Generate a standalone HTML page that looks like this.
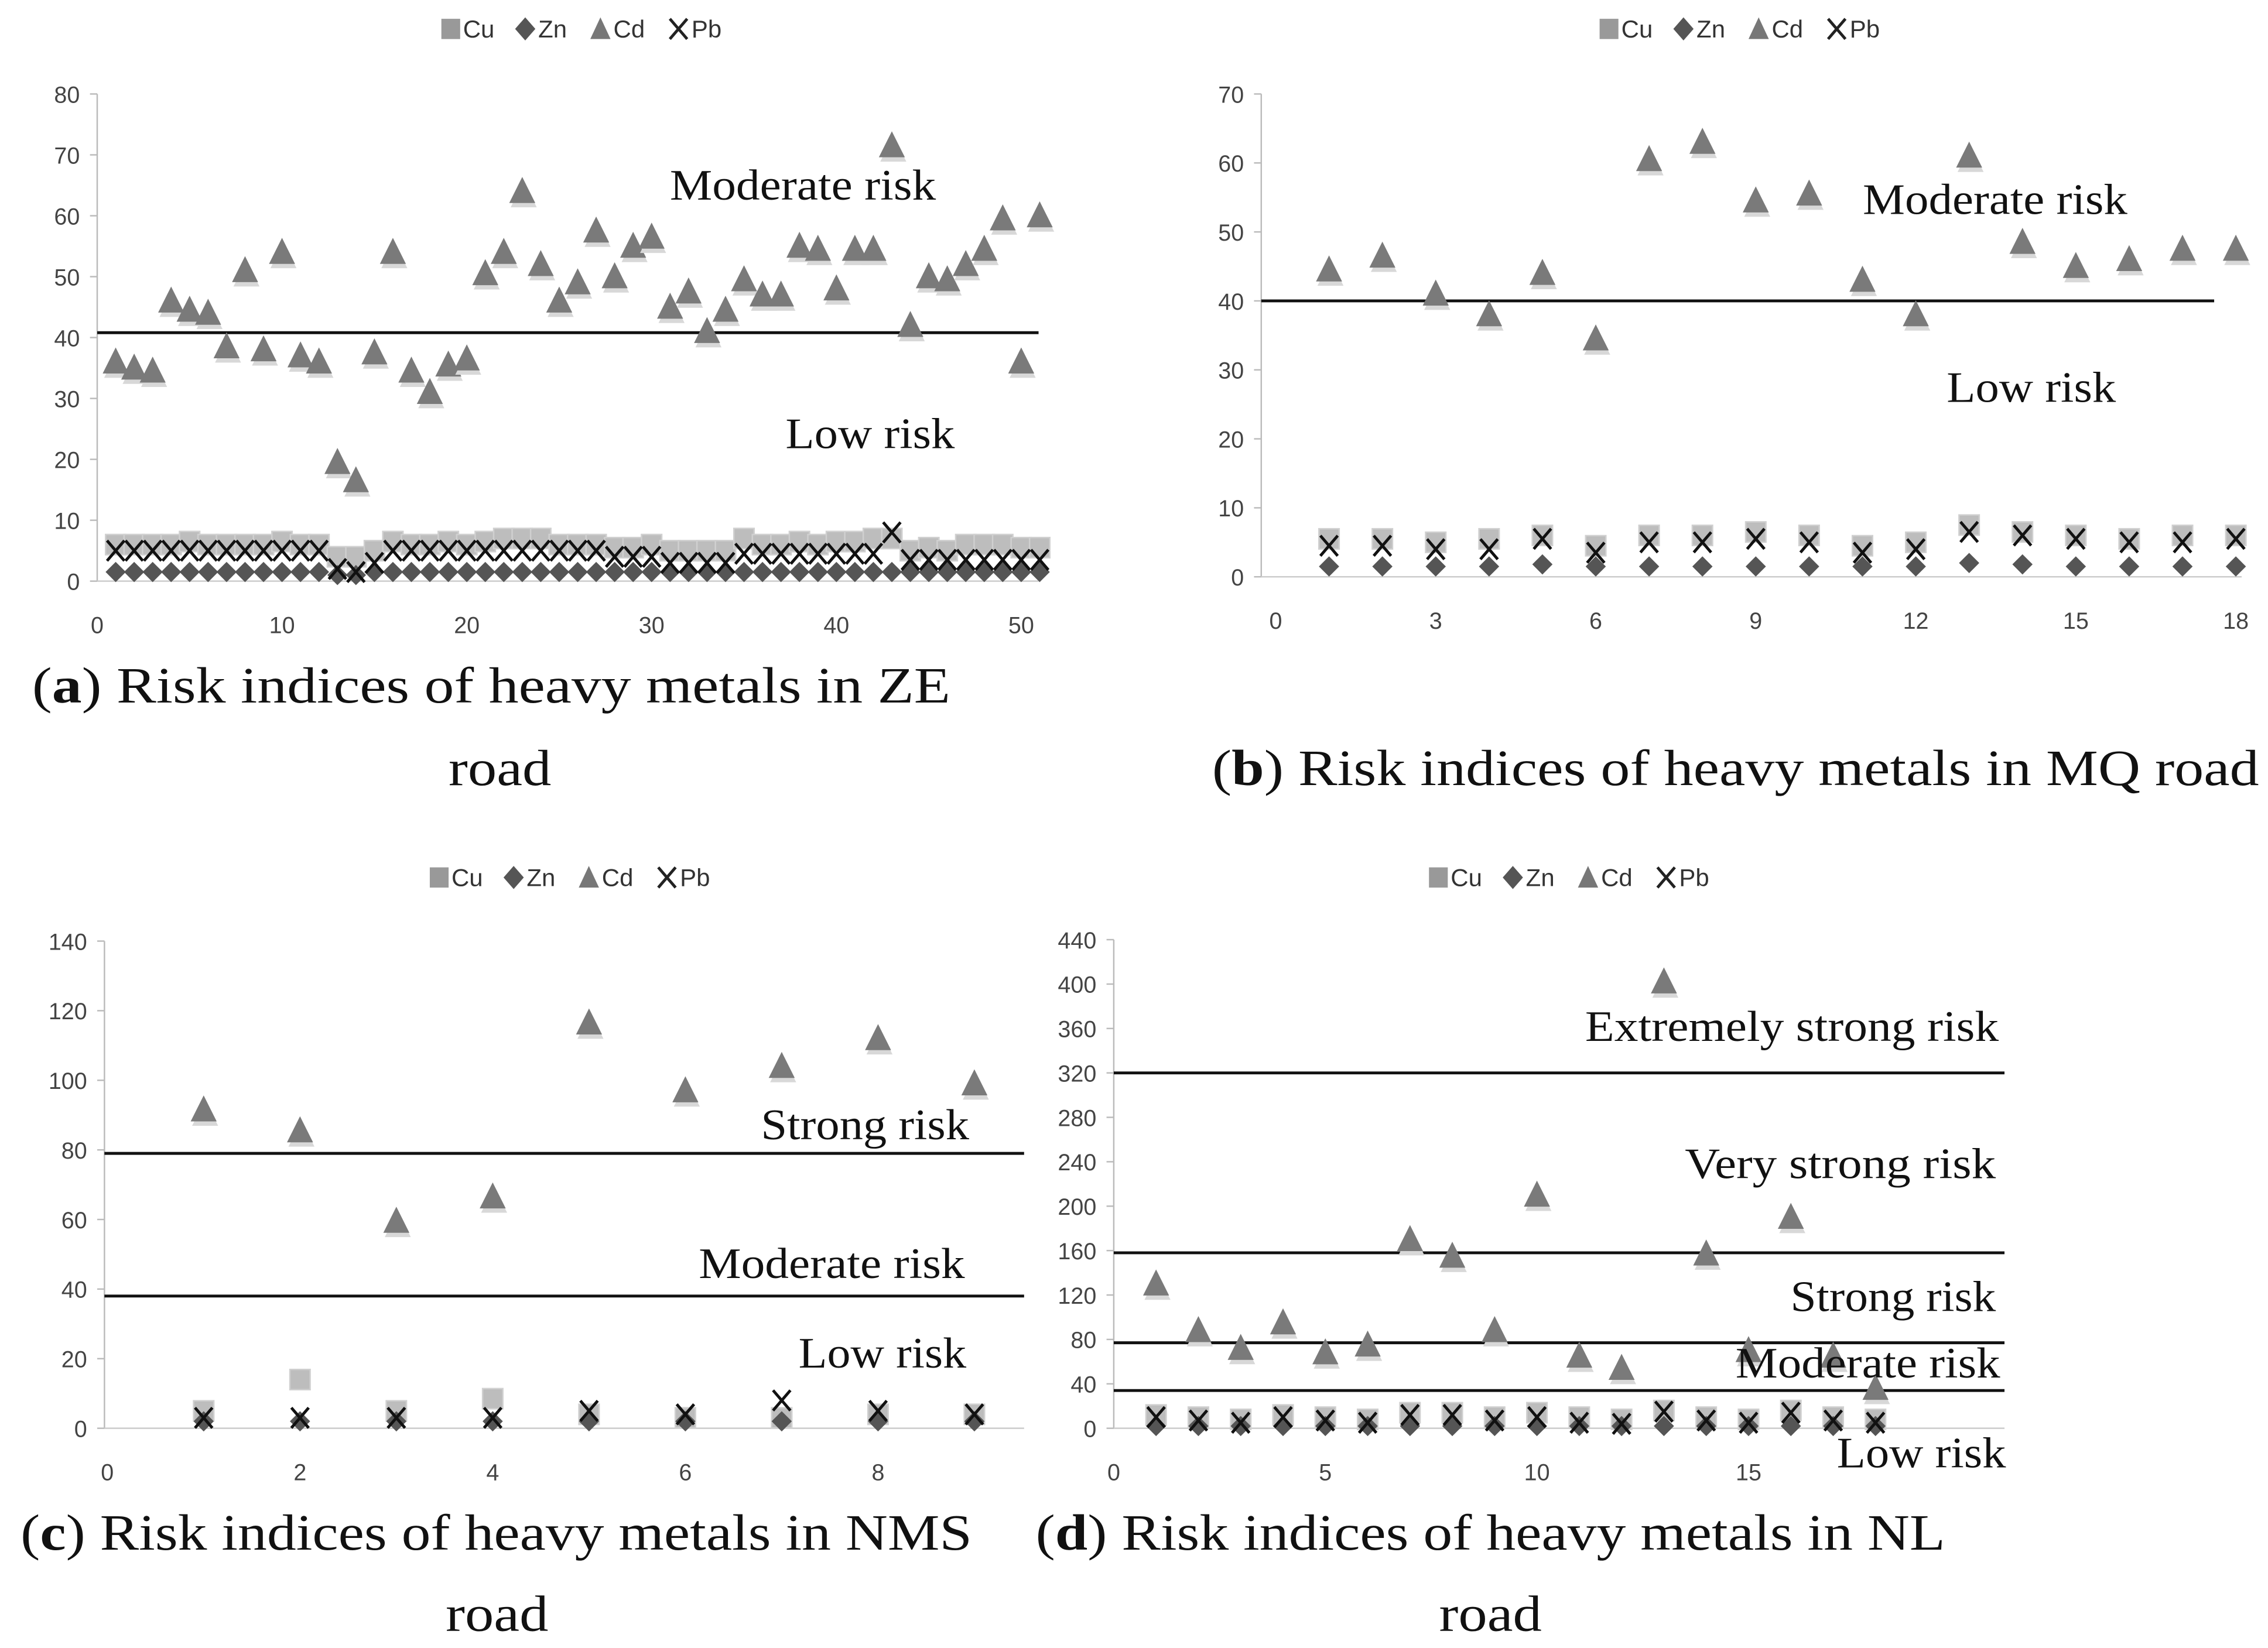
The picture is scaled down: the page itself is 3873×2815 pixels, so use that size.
<!DOCTYPE html>
<html><head><meta charset="utf-8"><style>
html,body{margin:0;padding:0;background:#fff;}
svg{display:block;}
.tk{font-family:"Liberation Sans Narrow","Liberation Sans",sans-serif;font-size:16px;fill:#444;}
.lg{font-family:"Liberation Sans Narrow","Liberation Sans",sans-serif;font-size:17px;fill:#333;}
.rz{font-family:"Liberation Serif",serif;font-size:30px;fill:#111;}
.cap{font-family:"Liberation Serif",serif;font-size:35px;fill:#111;}
</style></head><body>
<svg id="fig" width="3873" height="2815" viewBox="0 0 1568 1140" xmlns="http://www.w3.org/2000/svg"></svg>
<script>
// Panel (a) ZE road
const aCd=[36,35,34.5,46,44.5,44,38.5,51,38,54,37,36,19.5,16.5,37.5,54,34.5,31,35.5,36.5,50.5,54,64,52,46,49,57.5,50,55,56.5,45,47.5,41,44.5,49.5,47,47,55,54.5,48,54.5,54.5,71.5,42,50,49.5,52,54.5,59.5,36,60];
const aCu=[6,6,6,6,6.5,6,6,6,6,6.5,6,6,4,4,5,6.5,6,6,6.5,6,6.5,7,7,7,6,6,6,5.5,5.5,6,5,5,5,5,7,6,6,6.5,6,6.5,6.5,7,7,5,5.5,5,6,6,6,5.5,5.5];
const aZn=[1.5,1.5,1.5,1.5,1.5,1.5,1.5,1.5,1.5,1.5,1.5,1.5,1,1,1.5,1.5,1.5,1.5,1.5,1.5,1.5,1.5,1.5,1.5,1.5,1.5,1.5,1.5,1.5,1.5,1.5,1.5,1.5,1.5,1.5,1.5,1.5,1.5,1.5,1.5,1.5,1.5,1.5,1.5,1.5,1.5,1.5,1.5,1.5,1.5,1.5];
const aPb=[5,5,5,5,5,5,5,5,5,5,5,5,2,1.5,3,5,5,5,5,5,5,5,5,5,5,5,5,4,4,4,3,3,3,3,4.5,4.5,4.5,4.5,4.5,4.5,4.5,4.5,8,3.5,3.5,3.5,3.5,3.5,3.5,3.5,3.5];
const aTicksY=[0,10,20,30,40,50,60,70,80];
const aTicksX=[0,10,20,30,40,50];
const aLines=[40.8];
// Panel (b) MQ road
const bCd=[44.5,46.5,41,38,44,34.5,60.5,63,54.5,55.5,43,38,61,48.5,45,46,47.5,47.5];
const bCu=[5.5,5.5,5,5.5,6,4.5,6,6,6.5,6,4.5,5,7.5,6.5,6,5.5,6,6];
const bZn=[1.5,1.5,1.5,1.5,1.8,1.5,1.5,1.5,1.5,1.5,1.5,1.5,2,1.8,1.5,1.5,1.5,1.5];
const bPb=[4.5,4.5,4,4,5.5,3.5,5,5,5.5,5,3.5,4,6.5,6,5.5,5,5,5.5];
const bTicksY=[0,10,20,30,40,50,60,70];
const bTicksX=[0,3,6,9,12,15,18];
const bLines=[40];
// Panel (c) NMS road
const cCd=[91.5,85.5,59.5,66.5,116.5,97,104,112,99];
const cCu=[5,14,5,8.5,4,3,3,4,4];
const cZn=[2,2,2,2,2,2,2,2,2];
const cPb=[3,3,3,3,5,4,8,5,4];
const cTicksY=[0,20,40,60,80,100,120,140];
const cTicksX=[0,2,4,6,8];
const cLines=[79,38];
// Panel (d) NL road
const dCd=[130,88,72,95,68,75,170,155,88,210,65,54,402,157,70,190,65,36];
const dCu=[12,10,8,12,10,8,14,14,10,14,10,8,16,10,8,16,10,8];
const dZn=[2,2,2,2,2,2,2,2,2,2,2,2,2,2,2,2,2,2];
const dPb=[10,7,5,10,7,5,12,12,7,10,5,4,15,7,5,14,7,5];
const dTicksY=[0,40,80,120,160,200,240,280,320,360,400,440];
const dTicksX=[0,5,10,15];
const dLines=[320,158,77,34];

const NS="http://www.w3.org/2000/svg";
const svg=document.getElementById('fig');
function mk(tag,attrs,parent){const e=document.createElementNS(NS,tag);for(const k in attrs)e.setAttribute(k,attrs[k]);(parent||svg).appendChild(e);return e;}

function marker(g,kind,x,y){
  let e;
  if(kind==='Cd'){
    mk('polygon',{points:`${x-9},${y+8} ${x+9},${y+8} ${x},${y-10}`,fill:'#d8d8d8',transform:'translate(1,3)'},g);
    e=mk('polygon',{points:`${x-9},${y+8} ${x+9},${y+8} ${x},${y-10}`,fill:'#7a7a7a'},g);
  }else if(kind==='Cu'){
    e=mk('rect',{x:x-7,y:y-7,width:14,height:14,fill:'#bdbdbd',stroke:'#d0d0d0','stroke-width':1},g);
  }else if(kind==='Zn'){
    e=mk('polygon',{points:`${x},${y-7} ${x+7},${y} ${x},${y+7} ${x-7},${y}`,fill:'#555'},g);
  }else{
    e=mk('path',{d:`M${x-6},${y-7}L${x+6},${y+7}M${x+6},${y-7}L${x-6},${y+7}`,stroke:'#111','stroke-width':2,fill:'none'},g);
  }
  return e;
}

function legend(cx,y,name){
  const g=mk('g',{});
  
  
  const items=[['Cu',0],['Zn',52],['Cd',104],['Pb',158]];
  items.forEach(([k,dx])=>{
    const x=cx+dx;
    const e=mk('g',{},g);
    
    
    if(k==='Cu')mk('rect',{x:x-6,y:y-7,width:13,height:14,fill:'#999'},e);
    else if(k==='Zn')mk('polygon',{points:`${x},${y-8} ${x+7},${y} ${x},${y+8} ${x-7},${y}`,fill:'#555'},e);
    else if(k==='Cd')mk('polygon',{points:`${x-7},${y+7} ${x+7},${y+7} ${x},${y-8}`,fill:'#777'},e);
    else mk('path',{d:`M${x-6},${y-7}L${x+6},${y+7}M${x+6},${y-7}L${x-6},${y+7}`,stroke:'#222','stroke-width':2},e);
    const t=mk('text',{x:x+9,y:y+6,class:'lg'},e);t.textContent=k;
  });
}

function panel(p){
  const g=mk('g',{});
  
  
  const sx=v=>p.x0+(v-p.xmin)*(p.x1-p.x0)/(p.xmax-p.xmin);
  const sy=v=>p.y0-(v)*(p.y0-p.y1)/p.ymax;
  const ya=mk('line',{x1:p.ax,y1:sy(0),x2:p.ax,y2:sy(p.ymax),stroke:'#bbb','stroke-width':1},g);
  
  
  const xa=mk('line',{x1:p.ax,y1:sy(0),x2:p.right,y2:sy(0),stroke:'#ccc','stroke-width':1},g);
  
  
  p.ty.forEach(v=>{
    mk('line',{x1:p.ax-5,y1:sy(v),x2:p.ax,y2:sy(v),stroke:'#bbb'},g);
    const t=mk('text',{x:p.ax-12,y:sy(v)+6,class:'tk','text-anchor':'end'},g);
    
    
    t.textContent=v;
  });
  p.tx.forEach(v=>{
    const t=mk('text',{x:sx(v),y:p.y0+36,class:'tk','text-anchor':'middle'},g);
    
    
    t.textContent=v;
  });
  p.lines.forEach(v=>{
    const l=mk('line',{x1:p.ax,y1:sy(v),x2:p.lineEnd,y2:sy(v),stroke:'#111','stroke-width':2},g);
    
    
  });
  const series=[['Cu',p.cu],['Zn',p.zn],['Cd',p.cd],['Pb',p.pb]];
  series.forEach(([k,arr])=>{
    arr.forEach((v,i)=>{
      const m=marker(g,k,sx(i+1),sy(v));
      
      
    });
  });
  p.labels.forEach(([txt,x1,x2,y])=>{
    const t=mk('text',{x:x1,y:y,class:'rz',textLength:x2-x1,lengthAdjust:'spacingAndGlyphs'},g);
    
    
    t.textContent=txt;
  });
  p.cap.forEach(([html,x1,x2,y])=>{
    const t=mk('text',{x:x1,y:y,class:'cap',textLength:x2-x1,lengthAdjust:'spacingAndGlyphs'},g);
    
    
    t.innerHTML=html;
  });
}

legend(311,20,'legend-a');
legend(1112,20,'legend-b');
legend(303,607,'legend-c');
legend(994,607,'legend-d');

panel({name:'panel-a',x0:67,x1:706,xmin:0,xmax:50,ax:67,right:718,lineEnd:718,y0:402,y1:65,ymax:80,
  ty:aTicksY,tx:aTicksX,lines:aLines,cd:aCd,cu:aCu,zn:aZn,pb:aPb,
  labels:[['Moderate risk',463,647,138],['Low risk',543,660,310]],
  cap:[['(<tspan font-weight="bold">a</tspan>) Risk indices of heavy metals in ZE',22,657,486],['road',310,381,543]]});
panel({name:'panel-b',x0:882,x1:1546,xmin:0,xmax:18,ax:872,right:1550,lineEnd:1531,y0:399,y1:65,ymax:70,
  ty:bTicksY,tx:bTicksX,lines:bLines,cd:bCd,cu:bCu,zn:bZn,pb:bPb,
  labels:[['Moderate risk',1288,1471,148],['Low risk',1346,1463,278]],
  cap:[['(<tspan font-weight="bold">b</tspan>) Risk indices of heavy metals in MQ road',838,1562,543]]});
panel({name:'panel-c',x0:74,x1:607,xmin:0,xmax:8,ax:72,right:708,lineEnd:708,y0:988,y1:651,ymax:140,
  ty:cTicksY,tx:cTicksX,lines:cLines,cd:cCd,cu:cCu,zn:cZn,pb:cPb,
  labels:[['Strong risk',526,670,788],['Moderate risk',483,667,884],['Low risk',552,668,946]],
  cap:[['(<tspan font-weight="bold">c</tspan>) Risk indices of heavy metals in NMS',14,672,1072],['road',308,379,1128]]});
panel({name:'panel-d',x0:770,x1:1209,xmin:0,xmax:15,ax:770,right:1386,lineEnd:1386,y0:988,y1:650,ymax:440,
  ty:dTicksY,tx:dTicksX,lines:dLines,cd:dCd,cu:dCu,zn:dZn,pb:dPb,
  labels:[['Extremely strong risk',1096,1382,720],['Very strong risk',1165,1380,815],['Strong risk',1238,1380,907],['Moderate risk',1200,1383,953],['Low risk',1270,1387,1015]],
  cap:[['(<tspan font-weight="bold">d</tspan>) Risk indices of heavy metals in NL',716,1345,1072],['road',995,1066,1128]]});
</script>
</body></html>
